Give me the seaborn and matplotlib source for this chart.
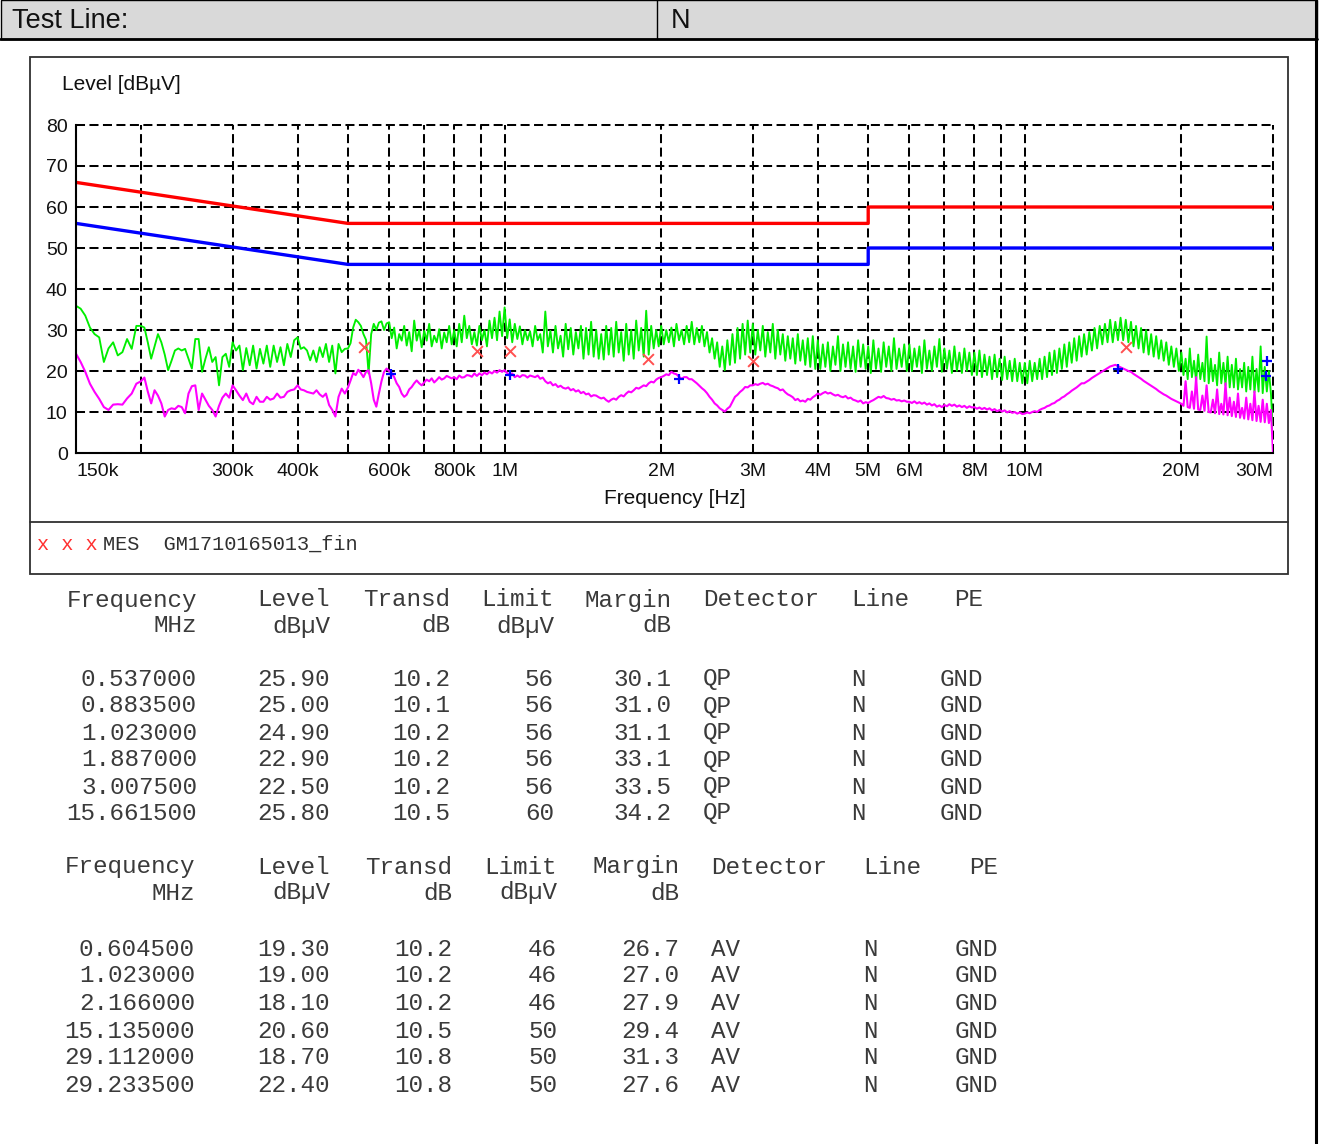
import numpy as np
import pandas as pd
import matplotlib
matplotlib.use("Agg")
import matplotlib.pyplot as plt
import seaborn as sns
from matplotlib.patches import Rectangle
from matplotlib.lines import Line2D
from matplotlib.ticker import NullLocator

# ---------------- data ----------------
header_label = "Test Line:"
header_value = "N"

limit_freq_mhz = [0.15, 0.5, 5.0, 5.0, 30.0]
qp_limit_db = [66, 56, 56, 60, 60]
av_limit_db = [56, 46, 46, 50, 50]

seg_edges_mhz = [0.15, 0.2, 0.3, 0.4, 0.5, 0.6, 0.8, 1.0, 1.5, 2.0, 3.0,
                 4.0, 5.0, 6.0, 8.0, 10.0, 13.0, 16.0, 20.0, 25.0, 30.0]

# peak / QP scan trace (green), read segment by segment
qp_trace_db = [
    [35.9, 35.2, 33.5, 30.6, 29.0, 28.2, 22.2, 25.5, 27.0, 23.8, 24.6, 27.8, 25.4, 31.0],
    [31.0, 30.6, 27.0, 23.0, 26.0, 29.0, 27.0, 24.0, 20.2, 22.5, 25.0, 25.5, 25.0, 25.4, 23.0,
     20.6, 27.8, 27.8, 19.8, 23.0, 25.8, 22.2, 23.4, 16.5, 23.4, 24.2, 21.0],
    [27.0, 25.0, 26.2, 20.2, 25.6, 21.4, 26.2, 20.6, 25.4, 21.8, 26.2, 21.0, 26.2, 22.2, 25.8,
     21.4, 26.6, 23.4, 27.5],
    [28.2, 25.4, 25.8, 25.0, 22.6, 25.0, 22.2, 25.8, 23.4, 26.6, 22.2, 26.2, 19.4, 26.6, 24.6, 25.4],
    [25.5, 26.8, 30.6, 32.5, 31.9, 31.0, 29.0, 27.6, 19.4, 29.0, 31.5, 30.0, 31.8, 32.1, 30.0, 31.6],
    [31.9, 28.0, 30.6, 25.5, 29.0, 27.4, 31.0, 26.2, 29.5, 24.8, 32.3, 27.4, 30.0, 25.8, 29.8,
     27.4, 31.5, 26.0, 28.6, 27.0, 30.2, 25.5, 29.4, 27.0, 31.0, 26.5],
    [30.0, 26.0, 31.5, 27.0, 33.5, 28.0, 31.0, 26.5, 29.5, 26.2, 31.0, 27.5, 30.0, 26.0, 32.3,
     28.0, 33.0, 27.5, 34.5, 28.5],
    [35.5, 28.0, 32.6, 27.0, 31.5, 27.8, 30.9, 26.5, 30.0, 27.5, 29.7, 26.0, 31.0, 27.5, 29.0,
     24.5, 34.5, 26.0, 29.8, 24.5, 31.0, 25.5, 28.6, 23.5, 31.5, 25.3, 30.5, 24.0, 29.5, 25.5,
     31.0, 23.0, 30.5, 24.0, 32.0, 23.5],
    [30.0, 23.0, 29.0, 22.8, 31.0, 24.0, 30.5, 23.5, 32.0, 24.5, 29.5, 22.5, 31.5, 24.0, 30.0,
     23.0, 32.3, 25.0, 30.5, 23.5, 34.7, 24.0, 31.0, 25.5, 30.0, 26.0],
    [31.0, 26.5, 30.0, 27.0, 30.6, 26.0, 31.5, 27.5, 30.0, 26.5, 31.0, 27.0, 32.0, 26.5, 30.5,
     27.0, 31.0, 26.0, 29.5, 24.5, 28.0, 23.0, 27.0, 21.0, 26.0, 20.2, 27.5, 21.5, 29.0, 22.0,
     30.5, 23.0, 31.5, 24.0, 32.3, 24.5],
    [31.5, 24.0, 30.0, 25.0, 31.0, 23.5, 29.5, 24.5, 31.5, 23.0, 30.0, 24.0, 29.0, 22.5, 28.5,
     23.0, 28.0, 21.8, 29.0, 22.5, 27.5, 21.5, 28.0, 21.0, 28.5, 20.5],
    [27.5, 20.5, 26.5, 21.0, 27.0, 20.0, 26.0, 21.5, 28.5, 20.0, 26.5, 21.0, 27.0, 20.5, 26.0,
     19.8, 27.5, 21.0, 26.5, 20.5],
    [26.0, 19.5, 27.5, 20.5, 25.5, 19.8, 27.0, 21.0, 26.0, 20.0, 28.0, 20.5, 25.5, 21.0, 26.5, 20.0],
    [26.5, 20.0, 25.5, 21.0, 26.0, 19.5, 27.5, 20.5, 25.0, 20.0, 26.0, 21.0, 27.8, 19.8, 25.5,
     20.5, 25.0, 19.5, 26.0, 20.0, 24.5, 19.5, 25.5, 20.0, 24.5, 19.0],
    [24.5, 19.0, 25.0, 18.5, 24.0, 19.0, 23.5, 18.0, 24.0, 18.5, 23.0, 17.8, 23.5, 18.0, 22.5,
     17.5, 23.0, 17.5, 22.0, 17.0],
    [22.0, 17.0, 22.5, 17.5, 22.0, 18.0, 23.0, 18.0, 23.5, 18.5, 24.5, 19.0, 25.0, 19.5, 25.5,
     20.5, 26.5, 21.0, 27.0, 22.0, 28.0, 22.5, 28.5, 23.5],
    [29.0, 24.0, 29.5, 25.0, 30.5, 25.5, 31.0, 26.5, 31.5, 27.0, 32.5, 27.0, 32.0, 27.5, 33.0,
     27.5, 32.5, 27.0],
    [32.0, 26.0, 31.0, 25.5, 30.5, 24.5, 30.0, 24.0, 29.0, 23.5, 28.5, 23.0, 27.5, 22.5, 27.0,
     21.5, 26.0, 21.0, 25.5, 20.0],
    [24.5, 19.0, 23.0, 18.0, 25.5, 18.5, 22.5, 17.5, 24.0, 18.0, 22.0, 17.5, 28.4, 17.0, 23.0,
     17.5, 21.5, 16.5, 24.5, 17.0, 22.0, 16.5, 23.5, 16.0],
    [21.5, 16.0, 23.0, 15.5, 20.5, 16.0, 22.0, 15.0, 21.0, 15.5, 23.5, 14.8, 20.5, 15.0, 26.0,
     14.6, 21.0, 15.0, 20.0, 14.5, 5.0],
]

# average scan trace (magenta), read segment by segment
av_trace_db = [
    [24.2, 22.2, 19.8, 16.9, 14.9, 13.2, 11.2, 10.5, 11.8, 11.9, 11.8, 13.3, 14.5, 16.9],
    [17.5, 18.4, 15.0, 12.1, 15.3, 14.0, 12.1, 8.9, 10.5, 10.9, 10.7, 11.5, 11.2, 9.7, 14.5,
     16.3, 16.5, 10.5, 14.5, 13.0, 11.5, 10.5, 8.9, 11.5, 13.5, 14.5, 13.5],
    [16.5, 15.3, 14.0, 12.9, 14.5, 12.5, 11.9, 13.7, 12.5, 12.5, 13.7, 13.0, 13.3, 14.5, 13.5,
     13.7, 14.9, 15.3, 15.5],
    [16.5, 15.5, 15.3, 14.9, 14.7, 14.5, 15.3, 14.3, 13.7, 14.5, 11.7, 10.5, 8.9, 13.7, 15.7, 14.5],
    [16.0, 17.7, 19.5, 19.0, 20.3, 19.5, 18.5, 19.8, 20.2, 17.0, 13.0, 11.3, 14.5, 17.5, 19.8, 20.6],
    [20.0, 19.5, 18.5, 17.0, 16.1, 14.5, 13.7, 14.2, 15.5, 16.1, 17.0, 17.7, 17.0, 16.5, 17.2,
     17.9, 17.5, 18.2, 17.2, 17.8, 18.5, 17.9, 18.2, 18.8, 18.5, 18.2],
    [18.5, 18.0, 18.9, 18.4, 18.5, 19.0, 18.9, 18.6, 19.4, 18.8, 19.4, 19.0, 19.6, 19.2, 19.8,
     19.4, 20.0, 19.6, 20.2, 19.8],
    [20.2, 19.5, 19.0, 19.4, 18.5, 18.9, 18.5, 19.0, 18.9, 18.4, 18.9, 18.7, 18.5, 18.9, 18.1,
     18.4, 17.5, 17.0, 17.3, 16.5, 16.8, 16.1, 16.4, 15.9, 15.7, 16.0, 15.3, 15.6, 15.0, 15.3,
     14.6, 14.9, 14.3, 14.5, 13.8, 14.1],
    [14.0, 13.6, 13.3, 13.5, 12.9, 12.5, 13.0, 13.3, 13.0, 13.7, 14.1, 13.8, 14.5, 15.0, 14.8,
     15.3, 15.9, 15.7, 16.1, 16.5, 16.3, 17.0, 17.4, 17.2, 17.9, 18.3],
    [18.5, 18.8, 19.2, 19.0, 19.8, 19.4, 19.2, 18.6, 18.1, 18.5, 18.5, 18.0, 18.0, 17.5, 17.0,
     16.4, 15.8, 15.3, 14.6, 13.7, 13.0, 12.1, 11.6, 10.9, 10.5, 10.1, 10.8, 11.3, 12.5, 13.7,
     14.2, 14.9, 15.4, 16.1, 16.0, 16.5],
    [16.5, 16.8, 16.6, 16.9, 17.1, 16.7, 16.9, 16.5, 16.3, 16.0, 15.8, 15.3, 15.5, 14.8, 14.3,
     14.0, 13.6, 12.9, 13.2, 12.6, 12.8, 12.5, 13.2, 13.0, 13.6, 14.0],
    [14.5, 14.2, 14.6, 14.9, 14.5, 14.7, 14.3, 14.0, 14.2, 13.8, 13.6, 13.9, 13.3, 13.5, 13.0,
     12.8, 12.5, 12.8, 12.1, 12.4],
    [12.2, 12.6, 12.9, 13.3, 13.7, 13.5, 13.9, 13.4, 13.3, 13.0, 13.2, 12.8, 12.9, 12.6, 12.8, 12.5],
    [12.5, 12.2, 12.6, 12.1, 12.4, 12.0, 12.3, 11.8, 12.1, 11.6, 11.9, 11.3, 11.6, 11.2, 11.7,
     11.4, 11.9, 11.5, 11.8, 11.3, 11.6, 11.2, 11.5, 11.0, 11.4, 11.1],
    [11.2, 10.8, 11.1, 10.7, 11.0, 10.6, 10.9, 10.4, 10.7, 10.2, 10.5, 10.1, 10.4, 9.9, 10.2,
     9.8, 10.0, 9.6, 9.9, 9.5],
    [9.6, 9.9, 9.7, 10.0, 10.2, 10.0, 10.5, 10.8, 11.0, 11.4, 11.6, 12.0, 12.2, 12.7, 13.0,
     13.5, 13.8, 14.3, 14.7, 15.2, 15.6, 16.0, 16.5, 17.0],
    [17.0, 17.4, 17.8, 18.3, 18.7, 19.1, 19.5, 19.9, 20.3, 20.7, 21.1, 21.3, 21.5, 21.2, 20.9,
     20.6, 20.3, 20.0],
    [19.8, 19.3, 18.9, 18.5, 18.1, 17.6, 17.2, 16.8, 16.4, 16.0, 15.6, 15.1, 14.7, 14.3, 14.0,
     13.6, 13.2, 12.9, 12.6, 12.3],
    [12.0, 11.5, 17.5, 11.2, 11.0, 15.0, 10.8, 18.5, 10.6, 10.5, 14.0, 10.3, 16.5, 10.0, 9.9,
     13.0, 9.7, 15.5, 9.5, 12.0, 9.4, 17.0, 9.2, 13.5],
    [9.0, 12.5, 8.8, 14.5, 8.6, 11.0, 8.4, 13.5, 8.2, 12.0, 8.0, 15.0, 7.8, 11.5, 7.6, 13.0,
     7.5, 12.0, 7.3, 10.5, 0.0],
]

qp_freq_mhz = [0.537, 0.8835, 1.023, 1.887, 3.0075, 15.6615]
qp_level_db = [25.90, 25.00, 24.90, 22.90, 22.50, 25.80]
qp_transd_db = [10.2, 10.1, 10.2, 10.2, 10.2, 10.5]
qp_lim_db = [56, 56, 56, 56, 56, 60]
qp_margin_db = [30.1, 31.0, 31.1, 33.1, 33.5, 34.2]

av_freq_mhz = [0.6045, 1.023, 2.166, 15.135, 29.112, 29.2335]
av_level_db = [19.30, 19.00, 18.10, 20.60, 18.70, 22.40]
av_transd_db = [10.2, 10.2, 10.2, 10.5, 10.8, 10.8]
av_lim_db = [46, 46, 46, 50, 50, 50]
av_margin_db = [26.7, 27.0, 27.9, 29.4, 31.3, 27.6]

x_tick_mhz = [0.15, 0.2, 0.3, 0.4, 0.5, 0.6, 0.7, 0.8, 0.9, 1, 2, 3, 4, 5, 6, 7, 8, 9, 10, 20, 30]
x_tick_labels = ["150k", "", "300k", "400k", "", "600k", "", "800k", "", "1M", "2M", "3M",
                 "4M", "5M", "6M", "", "8M", "", "10M", "20M", "30M"]
y_ticks = [0, 10, 20, 30, 40, 50, 60, 70, 80]

table_head1 = ["Frequency", "Level", "Transd", "Limit", "Margin", "Detector", "Line", "PE"]
table_head2 = ["MHz", "dB\u00b5V", "dB", "dB\u00b5V", "dB"]
legend_text = "MES  GM1710165013_fin"

# ---------------- figure ----------------
W, H = 1325, 1144
sns.set_theme(style="white")
plt.rcParams['font.family'] = ['Liberation Sans', 'DejaVu Sans']
plt.rcParams['lines.scale_dashes'] = False

fig = plt.figure(figsize=(W / 100, H / 100), dpi=100)
fig.patch.set_facecolor("white")


def fx(px):
    return px / W


def fy(py):
    return 1 - py / H


# header band
fig.patches.append(Rectangle((fx(0.5), fy(39)), fx(1316), 39 / H, transform=fig.transFigure,
                             facecolor="#d9d9d9", edgecolor="black", lw=1.0))
fig.lines.append(Line2D([fx(0), fx(1317)], [fy(39), fy(39)], transform=fig.transFigure,
                        color="black", lw=2.0))
fig.lines.append(Line2D([fx(657), fx(657)], [fy(0), fy(39)], transform=fig.transFigure,
                        color="black", lw=1.0))
fig.lines.append(Line2D([fx(1316), fx(1316)], [fy(0), fy(1144)], transform=fig.transFigure,
                        color="black", lw=2.2))
fig.text(fx(12), fy(21), header_label, fontsize=19.5, va="center", ha="left", color="#111111")
fig.text(fx(671), fy(21), header_value, fontsize=19.5, va="center", ha="left", color="#111111")

# chart frame
fig.patches.append(Rectangle((fx(30), fy(574)), (1288 - 30) / W, (574 - 57) / H,
                             transform=fig.transFigure, fill=False, edgecolor="#303030", lw=1.3))
fig.lines.append(Line2D([fx(30), fx(1288)], [fy(522), fy(522)], transform=fig.transFigure,
                        color="#303030", lw=1.3))

ax = fig.add_axes([fx(76), fy(453), (1273 - 76) / W, (453 - 125) / H])
ax.set_xscale("log")
ax.set_xlim(0.15, 30)
ax.set_ylim(0, 80)
ax.set_facecolor("white")

# traces
qp_f, qp_v, av_f, av_v = [], [], [], []
nseg = len(seg_edges_mhz) - 1
for i in range(nseg):
    a, b = seg_edges_mhz[i], seg_edges_mhz[i + 1]
    last = (i == nseg - 1)
    q = qp_trace_db[i]
    qp_f.extend(np.geomspace(a, b, len(q), endpoint=last))
    qp_v.extend(q)
    m = av_trace_db[i]
    av_f.extend(np.geomspace(a, b, len(m), endpoint=last))
    av_v.extend(m)

qp_df = pd.DataFrame({"f": qp_f, "v": qp_v})
av_df = pd.DataFrame({"f": av_f, "v": av_v})
lim_df = pd.DataFrame({"f": limit_freq_mhz, "qp": qp_limit_db, "av": av_limit_db})

sns.lineplot(data=qp_df, x="f", y="v", ax=ax, color="#00ee00", lw=1.35, sort=False,
             estimator=None, zorder=3)
sns.lineplot(data=av_df, x="f", y="v", ax=ax, color="#ff00ff", lw=1.5, sort=False,
             estimator=None, zorder=4)
sns.lineplot(data=lim_df, x="f", y="qp", ax=ax, color="#ff0000", lw=2.4, sort=False,
             estimator=None, zorder=5)
sns.lineplot(data=lim_df, x="f", y="av", ax=ax, color="#0000ff", lw=2.4, sort=False,
             estimator=None, zorder=5)

sns.scatterplot(x=qp_freq_mhz, y=qp_level_db, ax=ax, marker="x", color="#ff5050", s=60,
                linewidth=1.4, zorder=6)
sns.scatterplot(x=av_freq_mhz, y=av_level_db, ax=ax, marker="+", color="#0000ff", s=60,
                linewidth=1.6, zorder=6)

# axes styling
ax.set_xticks(x_tick_mhz)
ax.set_xticklabels(x_tick_labels)
ax.xaxis.set_minor_locator(NullLocator())
ax.set_yticks(y_ticks)
ax.set_yticklabels([str(v) for v in y_ticks])
ax.tick_params(axis="both", length=0, labelsize=14, colors="#111111")
ax.tick_params(axis="x", pad=7)
ax.tick_params(axis="y", pad=6)
lbls = ax.get_xticklabels()
lbls[0].set_horizontalalignment("left")
lbls[-1].set_horizontalalignment("right")
ax.grid(True, which="major", color="black", linestyle=(0, (6.5, 3.2)), lw=1.45)
for gl in ax.get_xgridlines() + ax.get_ygridlines():
    gl.set_clip_on(False)
for side in ["top", "right"]:
    ax.spines[side].set_visible(False)
for side in ["left", "bottom"]:
    ax.spines[side].set_color("black")
    ax.spines[side].set_linewidth(1.5)
    ax.spines[side].set_zorder(7)
ax.set_xlabel("")
ax.set_ylabel("")
ax.set_axisbelow(True)

fig.text(fx(62), fy(85), "Level [dB\u00b5V]", fontsize=15, va="center", ha="left",
         color="#111111")
fig.text(fx(675), fy(498), "Frequency [Hz]", fontsize=15, va="center", ha="center",
         color="#111111")

# legend line
mono = ["Liberation Mono", "DejaVu Sans Mono"]
fig.text(fx(37), fy(544), "x x x", family=mono, fontsize=14.6, color="#ff3030",
         va="center", ha="left")
fig.text(fx(103), fy(544), legend_text, family=mono, fontsize=14.6, color="#303030",
         va="center", ha="left")


# tables
def draw_table(y_head, y_rows, right_cols, det_x, line_x, pe_right, det, freqs, levels,
               transd, limits, margins):
    tsize = 17.5
    col = "#3a3a3a"
    for txt, xr in zip(table_head1[:5], right_cols):
        fig.text(fx(xr), fy(y_head[0]), txt, family=mono, fontsize=tsize, color=col,
                 ha="right", va="center")
    fig.text(fx(det_x), fy(y_head[0]), table_head1[5], family=mono, fontsize=tsize,
             color=col, ha="left", va="center")
    fig.text(fx(line_x), fy(y_head[0]), table_head1[6], family=mono, fontsize=tsize,
             color=col, ha="left", va="center")
    fig.text(fx(pe_right), fy(y_head[0]), table_head1[7], family=mono, fontsize=tsize,
             color=col, ha="right", va="center")
    for txt, xr in zip(table_head2, right_cols):
        fig.text(fx(xr), fy(y_head[1]), txt, family=mono, fontsize=tsize, color=col,
                 ha="right", va="center")
    for k, yy in enumerate(y_rows):
        vals = [f"{freqs[k]:.6f}", f"{levels[k]:.2f}", f"{transd[k]:.1f}",
                f"{limits[k]:d}", f"{margins[k]:.1f}"]
        for txt, xr in zip(vals, right_cols):
            fig.text(fx(xr), fy(yy), txt, family=mono, fontsize=tsize, color=col,
                     ha="right", va="center")
        fig.text(fx(det_x), fy(yy), det, family=mono, fontsize=tsize, color=col,
                 ha="left", va="center")
        fig.text(fx(line_x), fy(yy), "N", family=mono, fontsize=tsize, color=col,
                 ha="left", va="center")
        fig.text(fx(pe_right), fy(yy), "GND", family=mono, fontsize=tsize, color=col,
                 ha="right", va="center")


draw_table([600, 626], [679, 706, 733, 760, 787, 813], [197, 330, 450, 554, 671],
           703, 851, 983, "QP", qp_freq_mhz, qp_level_db, qp_transd_db, qp_lim_db,
           qp_margin_db)
draw_table([867, 893], [949, 976, 1003, 1031, 1058, 1085], [195, 330, 452, 557, 679],
           711, 863, 998, "AV", av_freq_mhz, av_level_db, av_transd_db, av_lim_db,
           av_margin_db)

fig.savefig("out.png", dpi=100, facecolor="white")
